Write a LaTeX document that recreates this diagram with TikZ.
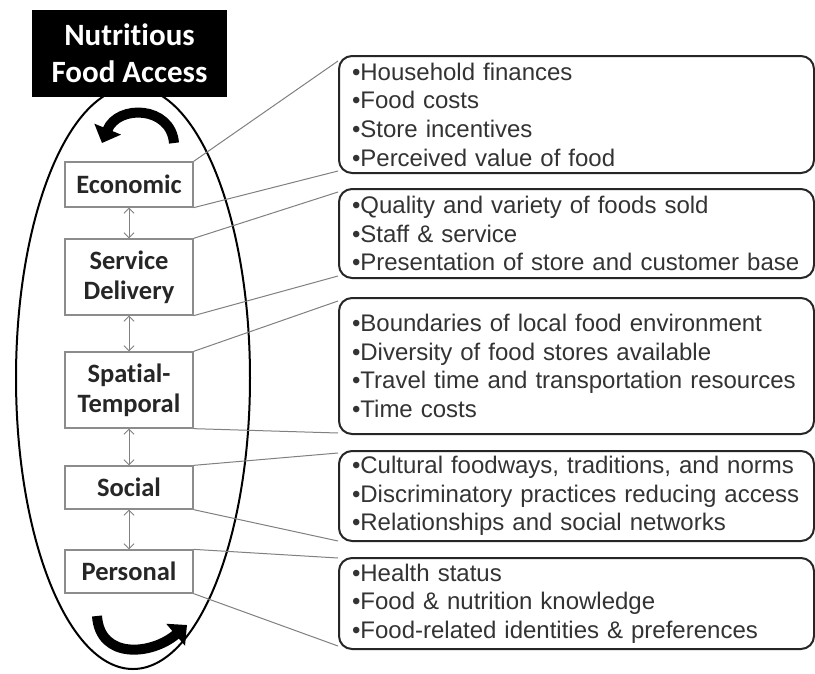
\documentclass[tikz,border=0pt]{standalone}
\usepackage{fontspec}
\setmainfont{Liberation Sans}
\newfontfamily\carl[Ligatures=NoCommon]{Carlito}
\usetikzlibrary{arrows.meta,calc}
\tikzset{
  lbox/.style={draw=black!45, line width=1.3pt, fill=white, minimum width=128, align=center,
    inner sep=0pt, font=\carl\bfseries\fontsize{26.5}{30}\selectfont, text=black!85},
  rbox/.style={draw=black!85, line width=2pt, rounded corners=13pt, anchor=north west,
    text width=449pt, inner xsep=13pt, inner ysep=0pt, align=left,
    font=\fontsize{24}{28.7}\selectfont, text=black!80},
  conn/.style={draw=black!50, line width=1pt},
  dbl/.style={draw=black!50, line width=0.9pt, {Straight Barb[length=5pt,width=10pt]}-{Straight Barb[length=5pt,width=10pt]}},
  bigarrow/.style={line width=10pt, -{Triangle[width=28pt,length=15pt]}}
}
\begin{document}
\begin{tikzpicture}[x=1pt,y=-1pt]
\useasboundingbox[fill=white] (0,0) rectangle (815,673);
% ellipse
\draw[line width=2pt] (133,378) ellipse [x radius=117, y radius=291];
% title
\node[fill=black, minimum width=195, minimum height=87, text=white, inner sep=0pt,
  font=\carl\bfseries\fontsize{31}{37}\selectfont, align=center] (title) at (129.5,53.5) {Nutritious\\Food Access};
% curved arrows
\draw[bigarrow] (174,143) .. controls (171,106) and (118,104) .. (102,143);
\draw[bigarrow] (97,616) .. controls (100,660) and (152,655) .. (187,625);
% left boxes
\node[lbox, minimum height=45] (eco) at (129,184.5) {Economic};
\node[lbox, minimum height=76] (svc) at (129,277) {Service\\Delivery};
\node[lbox, minimum height=76] (spt) at (129,390) {Spatial-\\Temporal};
\node[lbox, minimum height=43] (soc) at (129,487.5) {Social};
\node[lbox, minimum height=43] (per) at (129,571.5) {Personal};
% right boxes
\node[rbox, minimum height=117] (r1) at (338,55) {•Household finances\\•Food costs\\•Store incentives\\•Perceived value of food};
\node[rbox, minimum height=89] (r2) at (338,188) {•Quality and variety of foods sold\\•Staff \& service\\•Presentation of store and customer base};
\node[rbox, minimum height=136] (r3) at (338,297) {•Boundaries of local food environment\\•Diversity of food stores available\\•Travel time and transportation resources\\•Time costs};
\node[rbox, minimum height=90] (r4) at (338,450) {•Cultural foodways, traditions, and norms\\•Discriminatory practices reducing access\\•Relationships and social networks};
\node[rbox, minimum height=91] (r5) at (338,557) {•Health status\\•Food \& nutrition knowledge\\•Food-related identities \& preferences};
% vertical double arrows
\draw[dbl] (eco.south) -- (svc.north);
\draw[dbl] (svc.south) -- (spt.north);
\draw[dbl] (spt.south) -- (soc.north);
\draw[dbl] (soc.south) -- (per.north);
% connectors
\draw[conn] (eco.north east) -- ([yshift=-6pt]r1.north west);
\draw[conn] (eco.south east) -- ([yshift=3pt]r1.south west);
\draw[conn] (svc.north east) -- ([yshift=-4pt]r2.north west);
\draw[conn] (svc.south east) -- ([yshift=3pt]r2.south west);
\draw[conn] (spt.north east) -- ([yshift=-4pt]r3.north west);
\draw[conn] (spt.south east) -- ([yshift=2pt]r3.south west);
\draw[conn] (soc.north east) -- ([yshift=-3pt]r4.north west);
\draw[conn] (soc.south east) -- ([yshift=1pt]r4.south west);
\draw[conn] (per.north east) -- ([yshift=-1pt]r5.north west);
\draw[conn] (per.south east) -- ([yshift=4pt]r5.south west);
\end{tikzpicture}
\end{document}
